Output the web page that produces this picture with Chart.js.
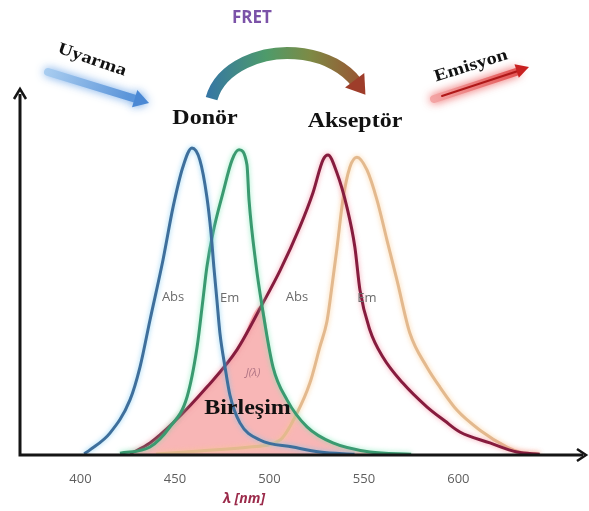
<!DOCTYPE html>
<html>
<head>
<meta charset="utf-8">
<script src="https://cdn.jsdelivr.net/npm/chart.js@4.4.1/dist/chart.umd.min.js"></script>
<style>
  html, body { margin: 0; padding: 0; background: #fff; }
  #wrap { width: 589px; height: 511px; }
</style>
</head>
<body>
<div id="wrap"><canvas id="fretChart" width="589" height="511"></canvas></div>
<script>
// wavelength (nm) and relative intensity
const donorAbsNm  = [402, 405, 415.6, 426.2, 431.5, 436.8, 443.7, 449, 454.2, 459, 463.2, 466.9, 469.1, 470.6, 472.2, 473.8, 476.5, 479.1, 484.4, 495, 512.4, 526.7, 545];
const donorAbsVal = [0.3, 1.4, 6, 15.1, 24.1, 37, 53.5, 67.9, 78.9, 84.1, 80.8, 70.7, 60.8, 51.5, 42.5, 33.4, 24.1, 16.4, 8.8, 4.1, 2.2, 0.8, 0.2];

const donorEmNm  = [420.9, 436.8, 447.4, 456.4, 461.7, 464.8, 466.9, 470.1, 475.4, 480.2, 483.9, 488.1, 489.2, 492.9, 496, 501.9, 509.3, 519.9, 533.6, 553.2, 575];
const donorEmVal = [0.5, 2.2, 7.7, 15.9, 29.5, 42.5, 51.5, 60.8, 71.8, 80.8, 83.6, 79.5, 69.9, 52.1, 41.1, 24.1, 15.1, 7.7, 3.3, 0.8, 0.2];

const accAbsNm  = [426.2, 436.8, 449, 466.9, 482.8, 496, 505.6, 516.1, 523, 528.3, 531, 535.7, 541, 545.2, 547.9, 553.2, 560.1, 570.6, 583.3, 592.9, 600.8, 616.7, 631, 643];
const accAbsVal = [0.3, 3.3, 8.8, 18.6, 28.8, 41.1, 50.5, 62.5, 71.8, 80.8, 82.2, 77.3, 67.9, 57, 45.2, 34.2, 26.8, 19.7, 13.2, 9.3, 6.3, 3.3, 0.8, 0.2];

const accEmNm  = [440, 463.2, 489.7, 505.6, 514.6, 521.4, 526.7, 530.4, 532, 535.7, 538.9, 542.6, 546.3, 551.6, 556.9, 562.2, 567.5, 574.3, 583.3, 590.2, 599.2, 611.4, 625.7, 632.6, 643];
const accEmVal = [0.3, 1.1, 2.2, 4.1, 11.5, 19.7, 29.6, 36.5, 42, 56.5, 70, 78.9, 81.6, 78.1, 69.9, 58.9, 47.9, 33.4, 24.1, 18.6, 12.3, 6.8, 2.2, 0.8, 0.2];

// upper edge of the shaded overlap J(λ)
const overlapNm  = [426.2, 436.8, 449, 466.9, 482.8, 496, 501.9, 509.3, 519.9, 533.6, 553.2, 575];
const overlapVal = [0.3, 3.3, 8.8, 18.6, 28.8, 41.1, 24.1, 15.1, 7.7, 3.3, 0.8, 0];

const tickValues = [400, 450, 500, 550, 600];

function toPoints(xs, ys) {
  return xs.map((x, i) => ({ x: x, y: ys[i] }));
}

function lineSet(label, xs, ys, color, glow) {
  return {
    label: label,
    data: toPoints(xs, ys),
    borderColor: color,
    glowColor: glow,
    borderWidth: 3,
    pointRadius: 0,
    fill: false,
    cubicInterpolationMode: 'monotone'
  };
}

function arrowHead(ctx, x, y, angle, len, half) {
  ctx.beginPath();
  ctx.moveTo(x, y);
  ctx.lineTo(x - len * Math.cos(angle) + half * Math.sin(angle), y - len * Math.sin(angle) - half * Math.cos(angle));
  ctx.lineTo(x - len * Math.cos(angle) - half * Math.sin(angle), y - len * Math.sin(angle) + half * Math.cos(angle));
  ctx.closePath();
  ctx.fill();
}

// stretched serif text like the original picture
function wideText(ctx, text, x, y, size, rot) {
  ctx.save();
  ctx.translate(x, y);
  ctx.rotate(rot || 0);
  ctx.scale(1.2, 1);
  ctx.textAlign = 'center';
  ctx.textBaseline = 'middle';
  ctx.fillStyle = '#111';
  ctx.font = 'bold ' + size + 'px "Liberation Serif"';
  ctx.fillText(text, 0, 0);
  ctx.restore();
}

const glowPlugin = {
  id: 'glow',
  beforeDatasetDraw(chart, args) {
    const ds = chart.data.datasets[args.index];
    chart.ctx.save();
    if (ds.glowColor) {
      chart.ctx.shadowColor = ds.glowColor;
      chart.ctx.shadowBlur = 5;
    }
  },
  afterDatasetDraw(chart) {
    chart.ctx.restore();
  }
};

const decorPlugin = {
  id: 'decor',
  afterDatasetsDraw(chart) {
    const ctx = chart.ctx;
    const area = chart.chartArea;
    const xs = chart.scales.x;
    const ys = chart.scales.y;

    // axes with arrow heads
    ctx.save();
    ctx.strokeStyle = '#151515';
    ctx.lineWidth = 3;
    ctx.beginPath();
    ctx.moveTo(area.left, area.top + 4);
    ctx.lineTo(area.left, area.bottom);
    ctx.lineTo(area.right - 2, area.bottom);
    ctx.stroke();
    ctx.lineWidth = 2.5;
    ctx.beginPath();
    ctx.moveTo(area.left - 6, area.top + 9);
    ctx.lineTo(area.left, area.top - 1);
    ctx.lineTo(area.left + 6, area.top + 9);
    ctx.stroke();
    ctx.beginPath();
    ctx.moveTo(area.right - 8, area.bottom - 6);
    ctx.lineTo(area.right + 1, area.bottom);
    ctx.lineTo(area.right - 8, area.bottom + 6);
    ctx.stroke();
    ctx.restore();

    // curve labels
    ctx.save();
    ctx.textAlign = 'center';
    ctx.textBaseline = 'middle';
    ctx.fillStyle = '#6b6b6b';
    ctx.font = '13px "Open Sans"';
    ctx.fillText('Abs', xs.getPixelForValue(449), ys.getPixelForValue(43.3));
    ctx.fillText('Em', xs.getPixelForValue(479), ys.getPixelForValue(43));
    ctx.fillText('Abs', xs.getPixelForValue(514.6), ys.getPixelForValue(43.3));
    ctx.fillText('Em', xs.getPixelForValue(551.6), ys.getPixelForValue(42.8));
    ctx.fillStyle = '#b07484';
    ctx.font = 'italic 11px "Open Sans"';
    ctx.fillText('J(λ)', xs.getPixelForValue(491.3), ys.getPixelForValue(22.4));
    // axis title
    ctx.fillStyle = '#9b2a4a';
    ctx.font = 'italic bold 14px "Open Sans"';
    ctx.fillText('λ [nm]', 244, 499);
    ctx.restore();
    wideText(ctx, 'Birleşim', xs.getPixelForValue(488.4), ys.getPixelForValue(12.6), 20);
    wideText(ctx, 'Donör', 205, 119, 20);
    wideText(ctx, 'Akseptör', 355, 122, 20);

    // excitation arrow
    ctx.save();
    const gBlue = ctx.createLinearGradient(45, 70, 148, 103);
    gBlue.addColorStop(0, '#a9cdf0');
    gBlue.addColorStop(1, '#4a88d4');
    ctx.shadowColor = 'rgba(100,160,230,0.9)';
    ctx.shadowBlur = 10;
    ctx.strokeStyle = gBlue;
    ctx.fillStyle = '#4a88d4';
    ctx.lineWidth = 8;
    ctx.lineCap = 'round';
    ctx.beginPath();
    ctx.moveTo(48, 72);
    ctx.lineTo(136, 99);
    ctx.stroke();
    arrowHead(ctx, 149, 103, Math.atan2(27, 88), 15, 9);
    ctx.restore();

    // emission arrow
    ctx.save();
    const gRed = ctx.createLinearGradient(430, 100, 530, 66);
    gRed.addColorStop(0, '#f4a7a7');
    gRed.addColorStop(1, '#e04a4a');
    ctx.shadowColor = 'rgba(235,80,80,0.9)';
    ctx.shadowBlur = 10;
    ctx.strokeStyle = gRed;
    ctx.fillStyle = '#c82020';
    ctx.lineWidth = 8;
    ctx.lineCap = 'round';
    ctx.beginPath();
    ctx.moveTo(434, 99);
    ctx.lineTo(516, 72);
    ctx.stroke();
    ctx.shadowBlur = 0;
    ctx.strokeStyle = '#b01818';
    ctx.lineWidth = 2;
    ctx.beginPath();
    ctx.moveTo(442, 96);
    ctx.lineTo(518, 71);
    ctx.stroke();
    arrowHead(ctx, 529, 67, Math.atan2(-26, 80), 13, 7);
    ctx.restore();

    // FRET arc
    ctx.save();
    const gArc = ctx.createLinearGradient(205, 0, 380, 0);
    gArc.addColorStop(0, '#3575a6');
    gArc.addColorStop(0.35, '#4e9b6a');
    gArc.addColorStop(0.6, '#7d8a45');
    gArc.addColorStop(1, '#a3412c');
    ctx.strokeStyle = gArc;
    ctx.lineWidth = 12;
    ctx.beginPath();
    ctx.ellipse(288, 110, 78, 57, 0, Math.PI + 0.2, 2 * Math.PI - 0.5);
    ctx.stroke();
    const endA = -0.5;
    const ex = 288 + 78 * Math.cos(endA);
    const ey = 110 + 57 * Math.sin(endA);
    const tang = Math.atan2(57 * Math.cos(endA), -78 * Math.sin(endA));
    ctx.fillStyle = '#9e3d2a';
    arrowHead(ctx, ex + 15 * Math.cos(tang), ey + 15 * Math.sin(tang), tang, 18, 12);
    ctx.restore();

    // header texts
    ctx.save();
    ctx.textAlign = 'center';
    ctx.textBaseline = 'middle';
    ctx.fillStyle = '#7b52a8';
    ctx.font = 'bold 17px "Open Sans"';
    ctx.fillText('FRET', 252, 18);
    ctx.restore();
    wideText(ctx, 'Uyarma', 92, 60, 17, 0.33);
    wideText(ctx, 'Emisyon', 471, 66, 17, -0.3);
  }
};

new Chart(document.getElementById('fretChart').getContext('2d'), {
  type: 'line',
  data: {
    datasets: [
      lineSet('Donör Abs', donorAbsNm, donorAbsVal, '#3e6f9c', 'rgba(120,200,240,0.8)'),
      lineSet('Donör Em', donorEmNm, donorEmVal, '#3a9a70', 'rgba(120,230,180,0.8)'),
      lineSet('Akseptör Abs', accAbsNm, accAbsVal, '#861c3e', 'rgba(240,120,140,0.7)'),
      lineSet('Akseptör Em', accEmNm, accEmVal, '#e3b98e', 'rgba(250,200,140,0.8)'),
      {
        label: 'J(λ)',
        data: toPoints(overlapNm, overlapVal),
        borderWidth: 0,
        pointRadius: 0,
        backgroundColor: 'rgba(242,110,110,0.5)',
        fill: 'origin',
        cubicInterpolationMode: 'monotone'
      }
    ]
  },
  options: {
    responsive: false,
    animation: false,
    devicePixelRatio: 1,
    layout: { padding: { left: 20, right: 4, top: 90, bottom: 0 } },
    plugins: {
      legend: { display: false },
      tooltip: { enabled: false }
    },
    scales: {
      x: {
        type: 'linear',
        min: 368,
        max: 667,
        afterFit(scale) { scale.height = 56; },
        afterBuildTicks(scale) { scale.ticks = tickValues.map(v => ({ value: v })); },
        grid: { display: false },
        border: { display: false },
        ticks: {
          color: '#5e5e5e',
          font: { family: 'Open Sans', size: 13 },
          padding: 8
        }
      },
      y: {
        type: 'linear',
        min: 0,
        max: 100,
        display: false
      }
    }
  },
  plugins: [glowPlugin, decorPlugin]
});
</script>
</body>
</html>
